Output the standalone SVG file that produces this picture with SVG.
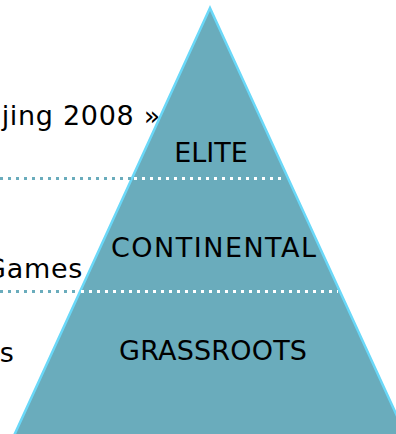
<svg xmlns="http://www.w3.org/2000/svg" width="396" height="434" viewBox="0 0 396 434">
  <style>
    .lbl { font-family: "DejaVu Sans", "Liberation Sans", sans-serif; font-size: 27px; fill: #000; }
    .tier { text-anchor: middle; }
    .side { text-anchor: end; letter-spacing: 0.7px; }
    .dot-out { stroke: #6aacbc; stroke-width: 3; stroke-dasharray: 3 5; fill: none; }
    .dot-in { stroke: #ffffff; stroke-width: 3; stroke-dasharray: 3 5; fill: none; }
  </style>

  <!-- side captions, running off the left edge -->
  <g id="captions">
    <text class="lbl side" x="161" y="125">Beijing 2008 »</text>
    <text class="lbl side" x="83" y="278">Games</text>
    <text class="lbl side" x="14.5" y="362">s</text>
  </g>

  <!-- pyramid body -->
  <g id="pyramid">
    <polygon points="210,8 408,440 12,440" fill="#6aacbc" stroke="#6ad8f8" stroke-width="2.5" stroke-linejoin="miter"/>
  </g>

  <!-- dotted tier dividers -->
  <g id="connectors">
    <line class="dot-out" x1="0" y1="178.5" x2="131" y2="178.5"/>
    <line class="dot-in" x1="134" y1="178.5" x2="284" y2="178.5"/>
    <line class="dot-out" x1="0" y1="291.5" x2="78" y2="291.5"/>
    <line class="dot-in" x1="81" y1="291.5" x2="338" y2="291.5"/>
  </g>

  <g id="elite">
    <text class="lbl tier" x="211" y="162">ELITE</text>
  </g>
  <g id="continental">
    <text class="lbl tier" x="213.5" y="257" textLength="205" lengthAdjust="spacing">CONTINENTAL</text>
  </g>
  <g id="grassroots">
    <text class="lbl tier" x="213" y="360" textLength="188" lengthAdjust="spacing">GRASSROOTS</text>
  </g>
</svg>
